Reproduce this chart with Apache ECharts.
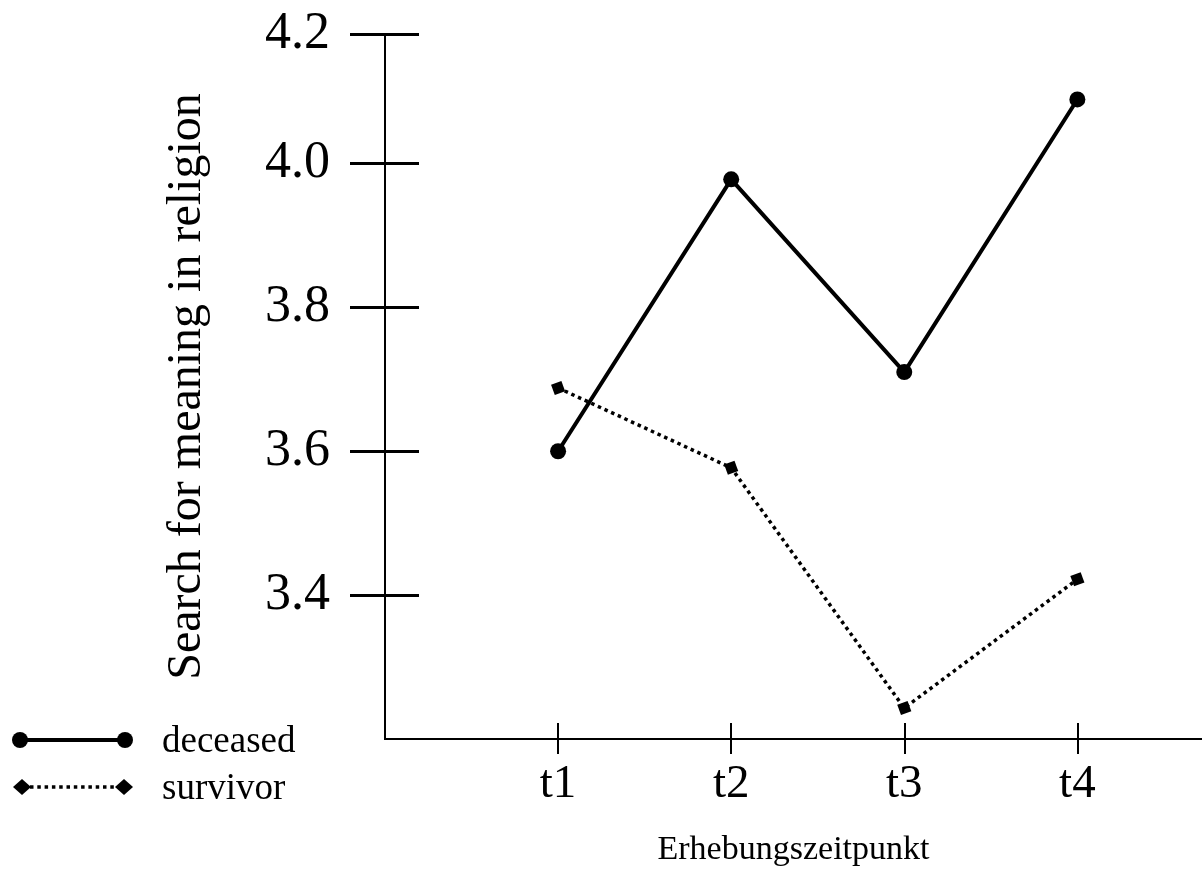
<!DOCTYPE html>
<html>
<head>
<meta charset="utf-8">
<script src="https://cdn.jsdelivr.net/npm/echarts@6/dist/echarts.min.js"></script>
<style>
  html, body { margin: 0; padding: 0; background: #fff; }
  #main { width: 1202px; height: 873px; }
</style>
</head>
<body>
<div id="main"></div>
<script>
// time points
const categories = ['t1', 't2', 't3', 't4'];
const deceased = [3.600, 3.978, 3.710, 4.089];
const survivor = [3.688, 3.577, 3.243, 3.422];
// y ticks (top tick is drawn a little below 4.2 in the original)
const yTickValues = [3.4, 3.6, 3.8, 4.0, 4.18];
const yTickLabels = ['3.4', '3.6', '3.8', '4.0', '4.2'];

const font = 'Liberation Serif, Times New Roman, serif';
const xPos = categories.map((c, i) => i + 1);
const toPoints = (arr) => arr.map((v, i) => [xPos[i], v]);

const chart = echarts.init(document.getElementById('main'), null, { renderer: 'canvas' });

const yBase = {
  type: 'value',
  min: 3.2,
  max: 4.18,
  position: 'left',
  splitLine: { show: false },
  axisLine: { show: true, lineStyle: { color: '#000', width: 2 } },
};
const xBase = {
  type: 'value',
  min: 0,
  max: 4.72,
  position: 'bottom',
  splitLine: { show: false },
  axisLine: { show: true, onZero: false, lineStyle: { color: '#000', width: 2 } },
};

const option = {
  backgroundColor: '#fff',
  animation: false,
  grid: { left: 385, right: 0, top: 34, bottom: 134, containLabel: false },
  xAxis: [
    Object.assign({}, xBase, {
      name: 'Erhebungszeitpunkt',
      nameLocation: 'middle',
      nameGap: 94,
      nameTextStyle: { fontFamily: font, fontSize: 34, color: '#000', verticalAlign: 'top' },
      axisTick: { show: true, inside: false, length: 15, customValues: xPos, lineStyle: { color: '#000', width: 2 } },
      axisLabel: {
        show: true, margin: 22, customValues: xPos,
        fontFamily: font, fontSize: 47, color: '#000',
        formatter: (v) => categories[Math.round(v) - 1] || '',
      },
    }),
    Object.assign({}, xBase, {
      axisTick: { show: true, inside: true, length: 16, customValues: xPos, lineStyle: { color: '#000', width: 2 } },
      axisLabel: { show: false },
    }),
  ],
  yAxis: [
    Object.assign({}, yBase, {
      name: 'Search for meaning in religion',
      nameLocation: 'middle',
      nameGap: 174,
      nameRotate: 90,
      nameTextStyle: { fontFamily: font, fontSize: 48, color: '#000' },
      axisTick: { show: true, inside: false, length: 35, customValues: yTickValues, lineStyle: { color: '#000', width: 3 } },
      axisLabel: {
        show: true, margin: 55, customValues: yTickValues,
        fontFamily: font, fontSize: 52, color: '#000',
        padding: [0, 0, 6, 0],
        formatter: (v) => {
          const i = yTickValues.findIndex((t) => Math.abs(t - v) < 1e-6);
          return i >= 0 ? yTickLabels[i] : '';
        },
      },
    }),
    Object.assign({}, yBase, {
      axisTick: { show: true, inside: true, length: 34, customValues: yTickValues, lineStyle: { color: '#000', width: 3 } },
      axisLabel: { show: false },
    }),
  ],
  series: [
    {
      name: 'deceased',
      type: 'line',
      data: toPoints(deceased),
      symbol: 'circle',
      symbolSize: 16,
      lineStyle: { color: '#000', width: 4 },
      itemStyle: { color: '#000' },
    },
    {
      name: 'survivor',
      type: 'line',
      data: toPoints(survivor),
      symbol: 'rect',
      symbolSize: 11,
      symbolRotate: 20,
      lineStyle: { color: '#000', width: 3.5, type: [3.5, 3.8] },
      itemStyle: { color: '#000' },
    },
  ],
  // legend drawn by hand to get a marker at both ends of each sample line
  graphic: [
    { type: 'line', shape: { x1: 20, y1: 740, x2: 125, y2: 740 }, style: { stroke: '#000', lineWidth: 4 } },
    { type: 'circle', shape: { cx: 20, cy: 740, r: 8 }, style: { fill: '#000' } },
    { type: 'circle', shape: { cx: 125, cy: 740, r: 8 }, style: { fill: '#000' } },
    { type: 'text', x: 162, y: 742, style: { text: 'deceased', font: '37px ' + font, fill: '#000', verticalAlign: 'middle' } },
    { type: 'line', shape: { x1: 30, y1: 787, x2: 116, y2: 787 }, style: { stroke: '#000', lineWidth: 3.5, lineDash: [3.5, 3.8] } },
    { type: 'polygon', shape: { points: [[22, 779], [31, 787], [22, 795], [13, 787]] }, style: { fill: '#000' } },
    { type: 'polygon', shape: { points: [[124, 779], [133, 787], [124, 795], [115, 787]] }, style: { fill: '#000' } },
    { type: 'text', x: 162, y: 789, style: { text: 'survivor', font: '37px ' + font, fill: '#000', verticalAlign: 'middle' } },
  ],
};

chart.setOption(option);
</script>
</body>
</html>
